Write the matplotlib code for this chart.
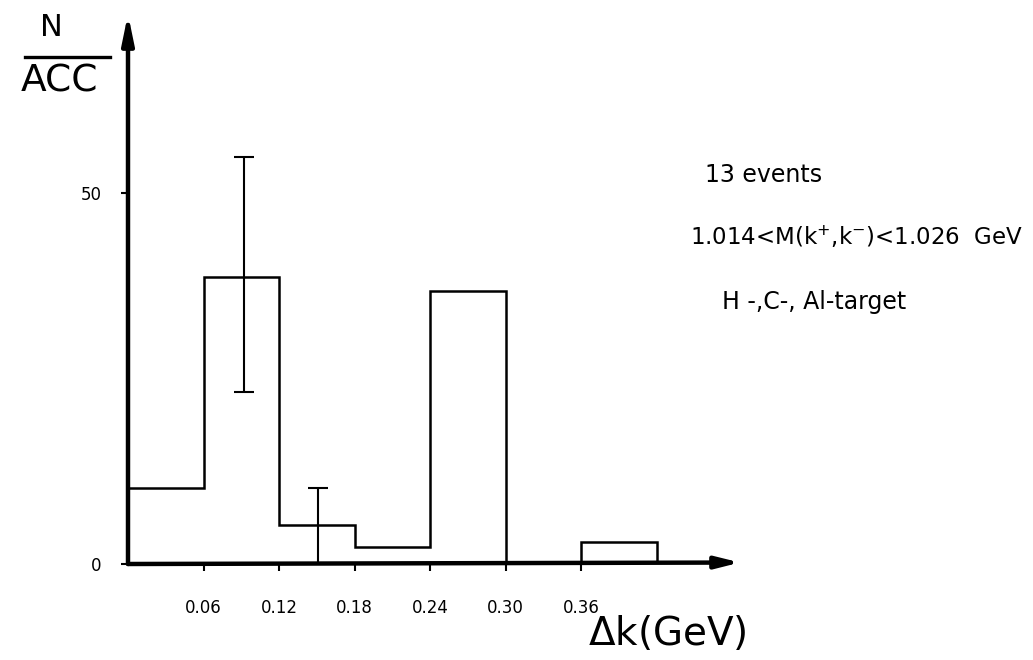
import numpy as np
import matplotlib
matplotlib.use('Agg')
import matplotlib.pyplot as plt
from matplotlib.lines import Line2D

# histogram: N/ACC per 0.06 GeV bin of delta k
edges = [0.0, 0.06, 0.12, 0.18, 0.24, 0.30, 0.36, 0.42]
counts = [10.2, 38.7, 5.3, 2.3, 36.8, 0.0, 3.0]

# error bars (x position, lower, upper)
err_x = [0.092, 0.151]
err_lo = [23.2, 0.0]
err_hi = [54.9, 10.2]

xtick_pos = [0.06, 0.12, 0.18, 0.24, 0.30, 0.36]
xtick_lab = ['0.06', '0.12', '0.18', '0.24', '0.30', '0.36']

notes = ['13 events', '1.014<M(k$^{+}$,k$^{-}$)<1.026  GeV', 'H -,C-, Al-target']

plt.rcParams['font.family'] = ['DejaVu Sans']

W, H = 1033, 660
fig = plt.figure(figsize=(W / 100, H / 100), dpi=100)
x0, y0 = 128, 564
x1, y1 = 760, 10
ax = fig.add_axes([x0 / W, (H - y0) / H, (x1 - x0) / W, (y0 - y1) / H])
px_x = 75.5 / 0.06
px_y = (564 - 193) / 50.0
ax.set_xlim(0, (x1 - x0) / px_x)
ax.set_ylim(0, (y0 - y1) / px_y)
for s in ax.spines.values():
    s.set_visible(False)

ax.stairs(counts, edges, baseline=0, color='black', lw=1.8)

for x, lo, hi in zip(err_x, err_lo, err_hi):
    mid = (lo + hi) / 2
    ax.errorbar(x, mid, yerr=[[mid - lo], [hi - mid]], fmt='none',
                ecolor='black', elinewidth=1.5, capsize=7, capthick=1.5)

# axes drawn as arrows
ax.annotate('', xy=(0, (y0 - 14) / px_y), xytext=(0, 0), annotation_clip=False,
            arrowprops=dict(arrowstyle='-|>,head_length=1.7,head_width=0.35',
                            lw=3.2, color='black', shrinkA=0, shrinkB=0))
ax.annotate('', xy=((740 - x0) / px_x, 0.2), xytext=(0, 0), annotation_clip=False,
            arrowprops=dict(arrowstyle='-|>,head_length=1.4,head_width=0.35',
                            lw=3.2, color='black', shrinkA=0, shrinkB=0))

ax.set_xticks(xtick_pos)
ax.set_xticklabels(xtick_lab, fontsize=12)
ax.set_yticks([0, 50])
ax.set_yticklabels(['0', '50'], fontsize=12)
ax.tick_params(axis='x', direction='out', length=5, width=1.5, pad=20)
ax.tick_params(axis='y', direction='out', length=5, width=1.5, pad=14)

# annotations on the right
fig.text(705 / W, 1 - 175 / H, notes[0], fontsize=17, va='center', ha='left')
fig.text(690 / W, 1 - 237 / H, notes[1], fontsize=16.5, va='center', ha='left')
fig.text(722 / W, 1 - 302 / H, notes[2], fontsize=17, va='center', ha='left')

# axis titles
fig.text(51 / W, 1 - 27 / H, 'N', fontsize=22, ha='center', va='center')
fig.text(59 / W, 1 - 81 / H, 'ACC', fontsize=27, ha='center', va='center')
fig.add_artist(Line2D([25 / W, 110 / W], [1 - 57 / H, 1 - 57 / H],
                      color='black', lw=2.4, transform=fig.transFigure))
fig.text(667 / W, 1 - 634 / H, r'$\it{\Delta}$k(GeV)', fontsize=28,
         ha='center', va='center')

fig.savefig('out.png', dpi=100)
